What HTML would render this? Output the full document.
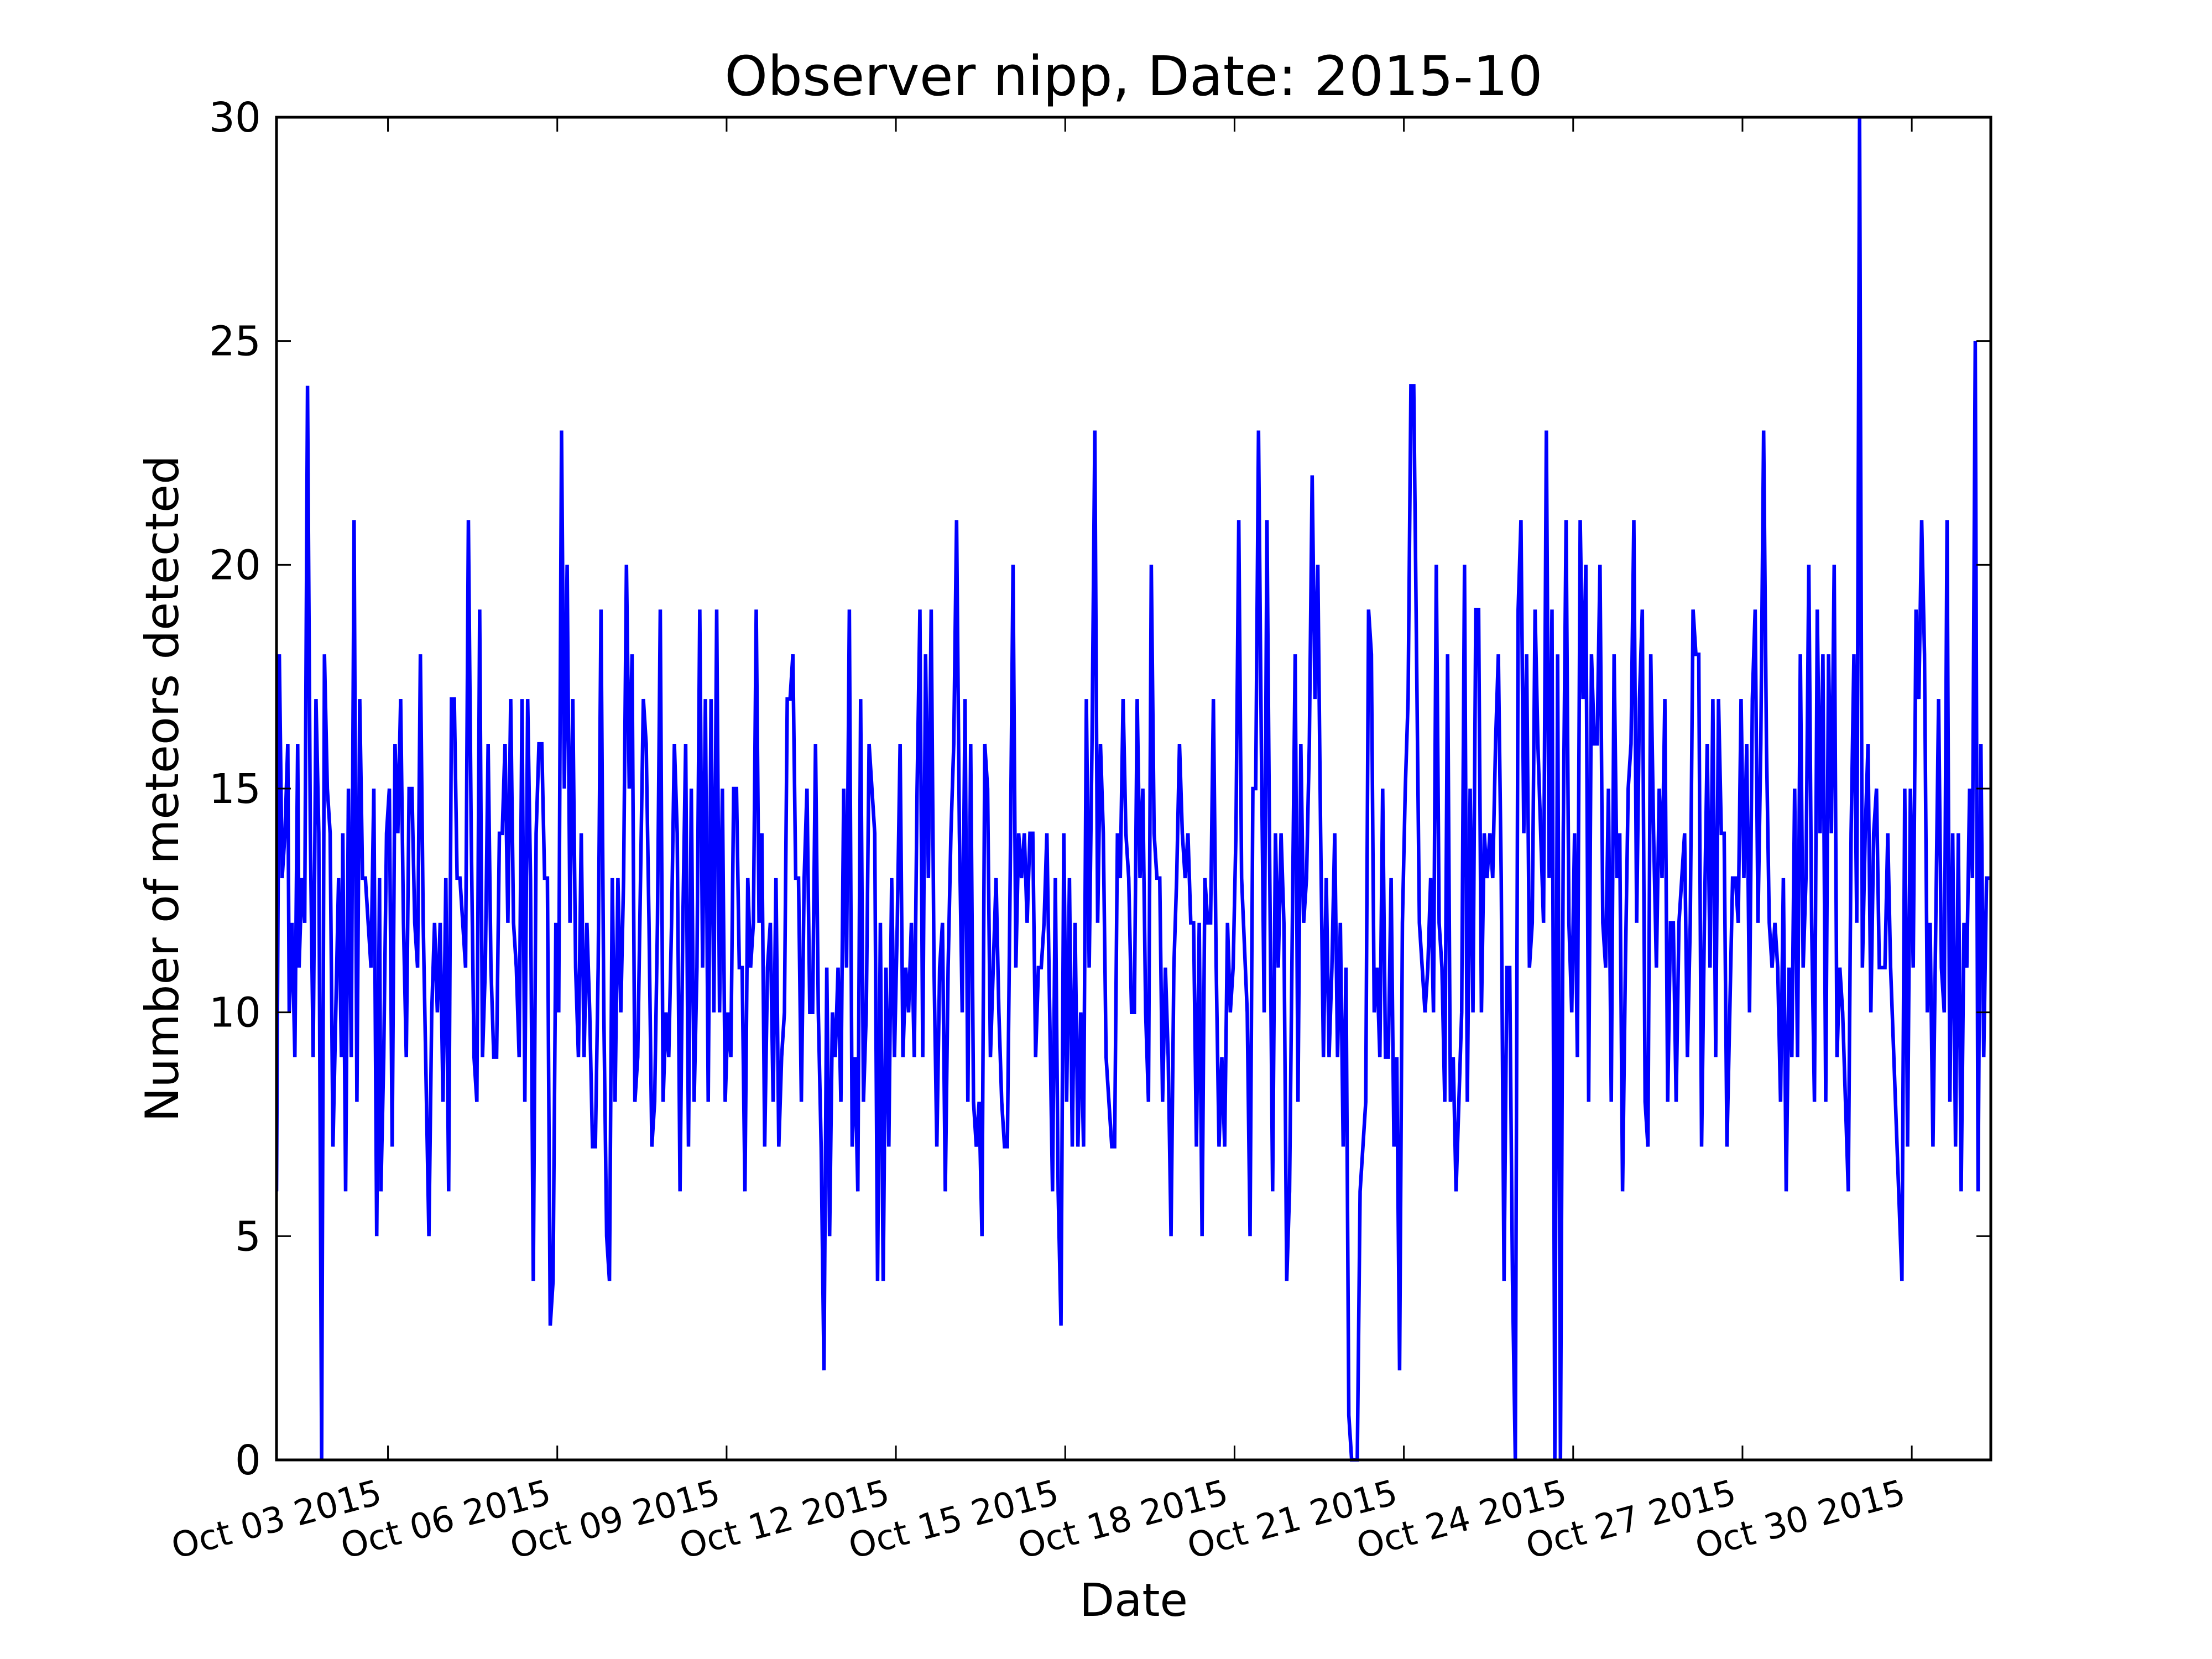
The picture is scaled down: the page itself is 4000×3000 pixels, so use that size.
<!DOCTYPE html>
<html><head><meta charset="utf-8">
<style>
html,body{margin:0;padding:0;background:#fff;}
svg{display:block;}
text{font-family:"DejaVu Sans","Liberation Sans",sans-serif;fill:#000;}
</style></head>
<body>
<svg id="chart" xmlns="http://www.w3.org/2000/svg" width="4000" height="3000" viewBox="0 0 4000 3000">
<rect x="0" y="0" width="4000" height="3000" fill="#fff"/>
<text x="2050" y="172" font-size="99" text-anchor="middle">Observer nipp, Date: 2015-10</text>
<g id="plot"></g>
<text x="2050" y="2922" font-size="82" text-anchor="middle">Date</text>
<text transform="translate(322,1426) rotate(-90)" font-size="83" text-anchor="middle">Number of meteors detected</text>
</svg>
<script>
// sample time in 36-minute slots since Oct 01 2015 00:00 (hours = slot*0.6)
const sampleSlot = [1,3,5,7,9,10,12,14,16,17,19,21,23,25,27,29,31,33,35,37,39,41,43,45,47,48,50,52,54,56,58,60,62,64,66,68,70,72,74,75,77,79,81,83,85,87,89,91,93,95,97,99,101,103,105,109,111,113,115,117,119,121,123,125,127,129,131,133,135,137,139,141,143,145,147,149,151,153,155,157,159,161,163,165,167,169,171,173,175,177,179,181,183,185,187,189,191,193,195,197,199,201,203,205,207,209,211,213,215,217,219,221,223,225,227,229,231,233,235,237,239,241,243,245,247,249,251,253,255,257,259,261,263,265,267,269,271,273,275,277,279,281,283,285,287,289,291,293,295,297,299,301,303,305,307,309,311,313,315,317,319,321,323,325,327,329,331,333,335,337,339,341,343,345,347,349,351,353,355,357,359,361,363,365,367,369,371,373,375,377,379,381,383,385,387,389,391,393,395,397,399,401,403,405,407,409,411,413,415,417,419,421,423,425,427,429,431,433,435,437,439,441,443,445,447,449,451,453,455,457,459,461,463,465,467,469,471,473,475,477,479,481,483,485,487,489,491,493,495,497,499,501,503,505,507,509,511,513,515,517,519,521,523,525,527,529,531,533,535,537,539,541,543,545,547,549,551,553,555,557,559,561,563,565,567,569,571,573,575,577,579,581,583,585,587,589,591,593,595,597,599,601,603,605,607,609,611,613,615,617,619,621,623,625,627,629,631,633,635,637,639,641,643,645,647,649,651,653,655,657,659,661,663,665,667,669,671,673,675,677,679,681,683,685,689,691,693,695,697,699,701,703,705,707,709,711,713,715,717,719,721,723,725,727,729,731,733,735,737,739,741,743,745,747,749,751,753,755,757,759,761,763,767,769,773,775,777,779,781,783,785,787,789,791,793,795,797,799,801,803,805,807,809,811,813,815,817,819,821,823,825,827,829,831,833,835,837,839,841,843,845,847,849,851,853,855,857,859,861,863,865,867,869,871,873,875,877,879,881,883,885,887,889,891,893,895,897,899,901,903,905,907,909,911,913,915,917,919,921,923,925,927,929,931,933,935,937,939,941,943,945,947,949,951,953,955,957,959,961,963,965,967,969,971,973,975,977,979,981,983,985,987,989,991,993,995,997,999,1001,1003,1005,1007,1009,1011,1013,1015,1017,1019,1021,1023,1025,1027,1029,1031,1033,1035,1037,1039,1041,1043,1045,1047,1049,1051,1053,1055,1057,1059,1061,1063,1065,1067,1069,1071,1073,1075,1077,1079,1081,1083,1085,1087,1089,1091,1093,1095,1097,1099,1101,1103,1105,1107,1109,1111,1113,1115,1117,1119,1121,1123,1125,1127,1129,1131,1133,1135,1137,1139,1141,1143,1145,1153,1155,1157,1159,1161,1163,1165,1167,1169,1171,1173,1175,1177,1179,1181,1183,1185,1187,1189,1191,1193,1195,1197,1199,1201,1203,1205,1207,1209,1211,1213,1215];
const meteorCounts = [6,18,13,14,16,10,12,9,16,11,13,12,24,14,9,17,14,0,18,15,14,7,10,13,9,14,6,15,9,21,8,17,13,13,12,11,15,5,13,6,9,14,15,7,16,14,17,12,9,15,15,12,11,18,12,5,10,12,10,12,8,13,6,17,17,13,13,12,11,21,14,9,8,19,9,11,16,11,9,9,14,14,16,12,17,12,11,9,17,8,17,13,4,14,16,16,13,13,3,4,12,10,23,15,20,12,17,11,9,14,9,12,10,7,7,11,19,10,5,4,13,8,13,10,13,20,15,18,8,9,13,17,16,12,7,8,12,19,8,10,9,12,16,14,6,12,16,7,15,8,11,19,11,17,8,17,10,19,10,15,8,10,9,15,15,11,11,6,13,11,12,19,12,14,7,11,12,8,13,7,9,10,17,17,18,13,13,8,13,15,10,10,16,10,7,2,11,5,10,9,11,8,15,11,19,7,9,6,17,8,10,16,15,14,4,12,4,11,7,13,9,12,16,9,11,10,12,9,15,19,9,18,13,19,11,7,11,12,6,11,14,16,21,14,10,17,8,16,8,7,8,5,16,15,9,11,13,10,8,7,7,13,20,11,14,13,14,12,14,14,9,11,11,12,14,10,6,13,6,3,14,8,13,7,12,7,10,7,17,11,16,23,12,16,14,9,8,7,7,14,13,17,14,13,10,10,17,13,15,10,8,20,14,13,13,8,11,9,5,11,13,16,14,13,14,12,12,7,12,5,13,12,12,17,11,7,9,7,12,10,11,14,21,13,10,5,15,15,23,16,10,21,13,6,14,11,14,12,4,6,12,18,8,16,12,13,16,22,17,20,14,9,13,9,11,14,9,12,7,11,1,0,0,6,8,19,18,10,11,9,15,9,9,13,7,9,2,12,15,17,24,24,18,12,11,10,11,13,10,20,12,11,8,18,8,9,6,8,10,20,8,15,10,19,19,10,14,13,14,13,16,18,13,4,11,11,4,0,19,21,14,18,11,12,19,16,14,12,23,13,19,0,18,0,14,21,12,10,14,9,21,17,20,8,18,16,16,20,12,11,15,8,18,13,14,6,11,15,16,21,12,17,19,8,7,18,14,11,15,13,17,8,12,12,8,12,13,14,9,12,19,18,18,7,12,16,11,17,9,17,14,14,7,10,13,13,12,17,13,16,10,17,19,12,16,23,16,12,11,12,11,8,13,6,11,9,15,9,18,11,13,20,12,8,19,14,18,8,18,14,20,9,11,10,8,6,14,18,12,30,11,14,16,10,14,15,11,11,11,14,11,4,15,7,15,11,19,17,21,18,10,12,7,12,17,11,10,21,8,14,7,14,6,12,11,15,13,25,6,16,9,13,13];
const yTickValues = [0,5,10,15,20,25,30];
const xTickHours = [48,120,192,264,336,408,480,552,624,696];
const xTickLabels = ['Oct 03 2015','Oct 06 2015','Oct 09 2015','Oct 12 2015','Oct 15 2015','Oct 18 2015','Oct 21 2015','Oct 24 2015','Oct 27 2015','Oct 30 2015'];

const NS = 'http://www.w3.org/2000/svg';
const L = 500, R = 3600, T = 212, B = 2640;
const hMin = 0.6, hMax = 729.6, yMin = 0, yMax = 30;
function xScale(h){ return L + (h - hMin) / (hMax - hMin) * (R - L); }
function yScale(v){ return B - (v - yMin) / (yMax - yMin) * (B - T); }
const plot = document.getElementById('plot');
function mk(tag, attrs){ const e = document.createElementNS(NS, tag); for (const k in attrs) e.setAttribute(k, attrs[k]); plot.appendChild(e); return e; }

let d = '';
sampleSlot.forEach((s, i) => { d += (i ? 'L' : 'M') + xScale(s * 0.6).toFixed(1) + ',' + yScale(meteorCounts[i]).toFixed(1); });
const cp = mk('clipPath', {id: 'clip'});
const cr = document.createElementNS(NS, 'rect');
cr.setAttribute('x', L); cr.setAttribute('y', T - 3); cr.setAttribute('width', R - L); cr.setAttribute('height', B - T + 6);
cp.appendChild(cr);
const line = mk('path', {d: d, fill: 'none', stroke: '#0000ff', 'stroke-width': 6.5, 'stroke-linejoin': 'miter', 'clip-path': 'url(#clip)'});



yTickValues.forEach(v => {
  const y = yScale(v);
  const t1 = mk('line', {x1: L, x2: L + 26, y1: y, y2: y, stroke: '#000', 'stroke-width': 3});
  
  
  const t2 = mk('line', {x1: R, x2: R - 26, y1: y, y2: y, stroke: '#000', 'stroke-width': 3});
  
  
  const lb = mk('text', {x: L - 28, y: y + 26, 'font-size': 74, 'text-anchor': 'end'});
  lb.textContent = v;
  
  
});

xTickHours.forEach((h, i) => {
  const x = xScale(h);
  const t1 = mk('line', {x1: x, x2: x, y1: B, y2: B - 26, stroke: '#000', 'stroke-width': 3});
  
  
  const t2 = mk('line', {x1: x, x2: x, y1: T, y2: T + 26, stroke: '#000', 'stroke-width': 3});
  
  
  const lb = mk('text', {transform: 'translate(' + (x - 8) + ',' + (B + 78) + ') rotate(-15)', 'font-size': 63, 'text-anchor': 'end'});
  lb.textContent = xTickLabels[i];
  
  
});

const frame = mk('rect', {x: L, y: T, width: R - L, height: B - T, fill: 'none', stroke: '#000', 'stroke-width': 5});


</script>
</body></html>
